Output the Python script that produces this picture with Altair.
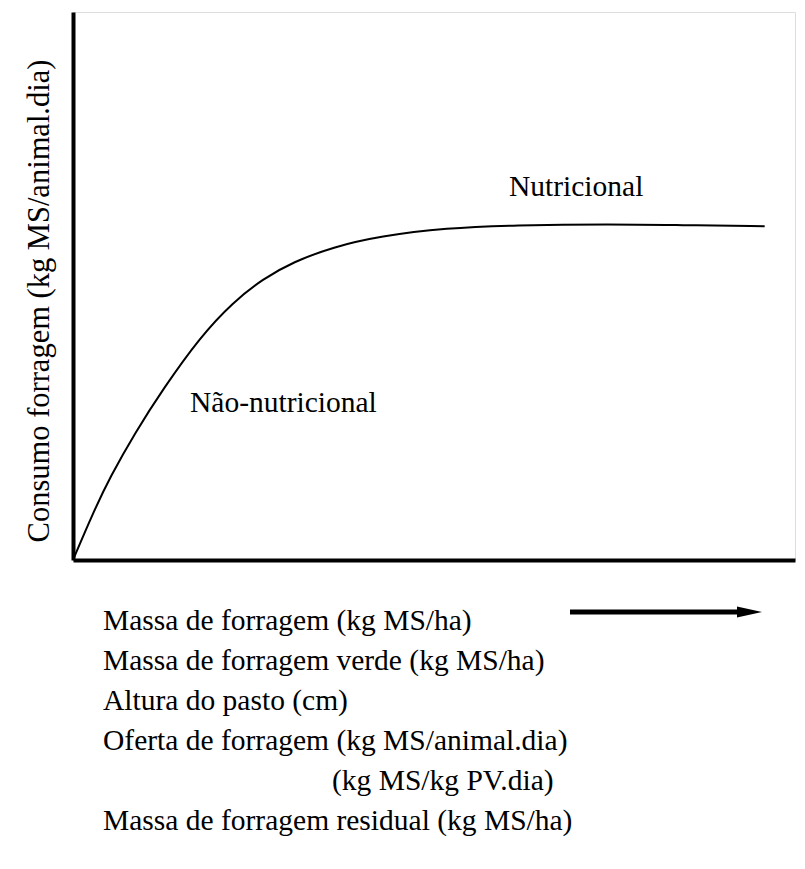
import altair as alt
import pandas as pd

# Schematic intake curve (relative units, 0-100)
curve_x = [0, 2.77, 5.12, 8.59, 12.47, 17.6, 22.2, 26.3, 30.5, 36.0, 42.5, 51.8, 60.9, 74.8, 84.1, 95.8]
curve_y = [0, 8.58, 15.1, 23.2, 31.2, 40.7, 47.1, 51.3, 54.4, 57.1, 59.1, 60.6, 61.1, 61.3, 61.1, 60.9]

y_title = "Consumo forragem (kg MS/animal.dia)"
label_upper = "Nutricional"
label_lower = "Não-nutricional"
x_lines = [
    "Massa de forragem (kg MS/ha)",
    "Massa de forragem verde (kg MS/ha)",
    "Altura do pasto (cm)",
    "Oferta de forragem (kg MS/animal.dia)",
    "(kg MS/kg PV.dia)",
    "Massa de forragem residual (kg MS/ha)",
]
x_line_offsets = [30, 30, 30, 30, 259, 30]

FONT = "Liberation Serif"
FS = 29.5

df = pd.DataFrame({"x": curve_x, "y": curve_y})

axis_style = dict(title="", labels=False, ticks=False, grid=False,
                  domainWidth=4, domainColor="black")

curve = alt.Chart(df).mark_line(color="black", strokeWidth=2, interpolate="basis").encode(
    x=alt.X("x:Q", scale=alt.Scale(domain=[0, 100], nice=False, zero=False), axis=alt.Axis(**axis_style)),
    y=alt.Y("y:Q", scale=alt.Scale(domain=[0, 100], nice=False, zero=False), axis=alt.Axis(**axis_style)),
)

def text_layer(txt, x, y, size=FS, **kw):
    return alt.Chart(pd.DataFrame({"t": [txt]})).mark_text(
        font=FONT, fontSize=size, color="black", align=kw.pop("align", "left"),
        baseline="alphabetic", **kw
    ).encode(text="t:N", x=alt.value(x), y=alt.value(y))

t_upper = text_layer(label_upper, 436, 184)
t_lower = text_layer(label_lower, 117, 400)
t_ytitle = text_layer(y_title, -24, 289, size=30.5, align="center", angle=270)

line_layers = [
    text_layer(txt, xo, 618 + 40 * i) for i, (txt, xo) in enumerate(zip(x_lines, x_line_offsets))
]

arrow_shaft = alt.Chart(pd.DataFrame({"k": [0]})).mark_rule(color="black", strokeWidth=5).encode(
    x=alt.value(497), x2=alt.value(670), y=alt.value(600)
)
arrow_head = alt.Chart(pd.DataFrame({"k": [0]})).mark_point(
    shape="M-1,-0.44L1,0L-1,0.44Z", filled=True, color="black", opacity=1, size=625, strokeWidth=0
).encode(x=alt.value(676.5), y=alt.value(600))

chart = alt.layer(
    curve, t_upper, t_lower, t_ytitle, *line_layers, arrow_shaft, arrow_head
).properties(
    width=722, height=548,
    autosize=alt.AutoSizeParams(type="none"),
    padding={"left": 65, "top": 4, "right": 2, "bottom": 298},
).configure_view(stroke="transparent").configure(background="white")

chart.save("out.html", embed_options={"renderer": "svg", "actions": False})
